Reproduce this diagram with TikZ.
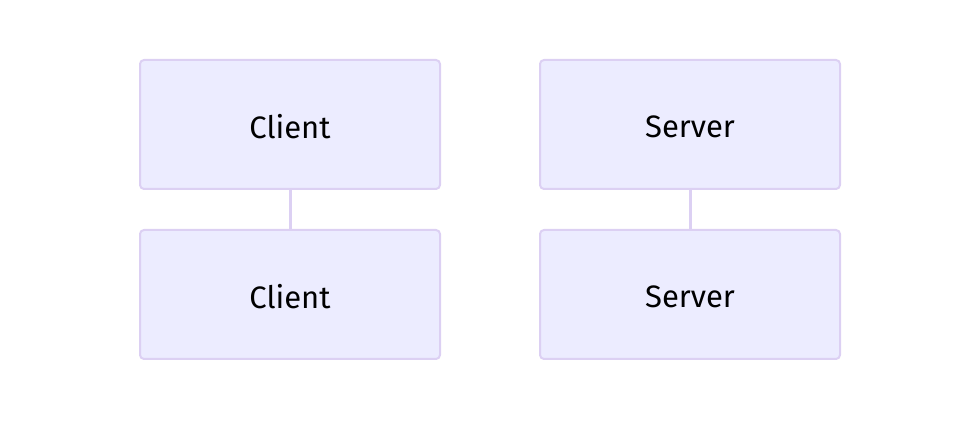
\documentclass[tikz,border=0pt]{standalone}
\usepackage{fontspec}
\setmainfont{Fira Sans}
\definecolor{actfill}{HTML}{ECECFF}
\definecolor{actline}{HTML}{DCD0F3}
\tikzset{
  actor/.style={draw=actline, fill=actfill, line width=2pt, rounded corners=4pt,
    minimum width=300pt, minimum height=129pt, inner sep=0pt, font=\fontsize{31}{36}\selectfont},
  lifeline/.style={draw=actline, line width=3pt}
}
\begin{document}
\begin{tikzpicture}[x=1pt,y=1pt]
\useasboundingbox (0,0) rectangle (980,422);
\node[actor] (c1) at (290,297.5) {};
\node[actor] (c2) at (290,127.5) {};
\node[actor] (s1) at (690,297.5) {};
\node[actor] (s2) at (690,127.5) {};
\node[font=\fontsize{31}{36}\selectfont, yshift=-2pt] (tc1) at (c1) {Client};
\node[font=\fontsize{31}{36}\selectfont, yshift=-2pt] (tc2) at (c2) {Client};
\node[font=\fontsize{31}{36}\selectfont, yshift=-2pt] (ts1) at (s1) {Server};
\node[font=\fontsize{31}{36}\selectfont, yshift=-2pt] (ts2) at (s2) {Server};
\draw[lifeline] (c1.south) -- (c2.north);
\draw[lifeline] (s1.south) -- (s2.north);
\end{tikzpicture}
\end{document}
